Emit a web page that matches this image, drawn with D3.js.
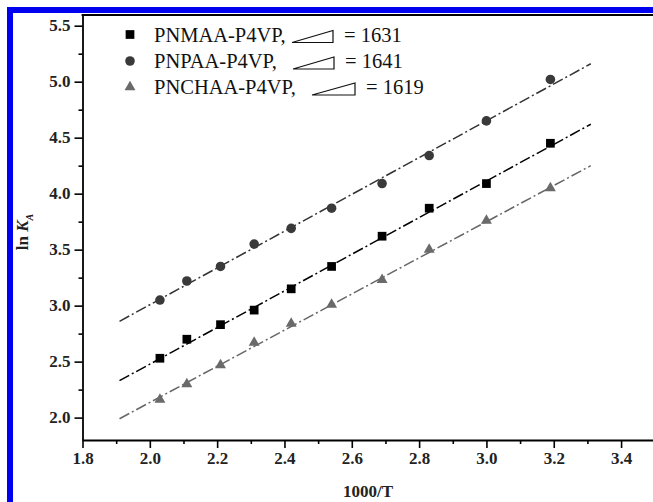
<!DOCTYPE html>
<html><head><meta charset="utf-8">
<script src="https://cdn.jsdelivr.net/npm/d3@7"></script>
<style>html,body{margin:0;padding:0;background:#fff;}svg{display:block;}</style>
</head><body>
<script>
// ---- data ----
const xValues = [2.03, 2.11, 2.21, 2.31, 2.42, 2.54, 2.69, 2.83, 3.00, 3.19];
const pnmaa  = [2.53, 2.70, 2.83, 2.96, 3.15, 3.35, 3.62, 3.87, 4.09, 4.45];
const pnpaa  = [3.05, 3.22, 3.35, 3.55, 3.69, 3.87, 4.09, 4.34, 4.65, 5.02];
const pnchaa = [2.16, 2.30, 2.47, 2.67, 2.84, 3.01, 3.23, 3.50, 3.76, 4.05];
const fitX = [1.91, 3.31];
const fitPnmaa  = [2.33, 4.62];
const fitPnpaa  = [2.86, 5.16];
const fitPnchaa = [1.99, 4.25];
const seriesNames = ["PNMAA-P4VP,", "PNPAA-P4VP,", "PNCHAA-P4VP,"];
const slopeLabels = ["= 1631", "= 1641", "= 1619"];
const xMajorTicks = [1.8, 2.0, 2.2, 2.4, 2.6, 2.8, 3.0, 3.2, 3.4];
const xMinorTicks = [1.9, 2.1, 2.3, 2.5, 2.7, 2.9, 3.1, 3.3];
const yMajorTicks = [2.0, 2.5, 3.0, 3.5, 4.0, 4.5, 5.0, 5.5];
const yMinorTicks = [2.25, 2.75, 3.25, 3.75, 4.25, 4.75, 5.25];

const W = 653, H = 502;
const svg = d3.select("body").append("svg").attr("width", W).attr("height", H);

const x = d3.scaleLinear().domain([1.8, 3.6]).range([82.5, 688.4]);
const y = d3.scaleLinear().domain([1.8, 5.6]).range([440, 14.5]);

// blue frame (cropped)
svg.append("rect").attr("x", 7).attr("y", 7).attr("width", W - 7).attr("height", 6).attr("fill", "#0000f0");
svg.append("rect").attr("x", 7).attr("y", 7).attr("width", 6).attr("height", H - 7).attr("fill", "#0000f0");

// top frame line
svg.append("line").attr("x1", 81.6).attr("x2", W).attr("y1", 15).attr("y2", 15)
  .attr("stroke", "#000").attr("stroke-width", 1.8);

const serif = "Liberation Serif, Times New Roman, serif";

// x axis
const xAxis = d3.axisBottom(x).tickValues(xMajorTicks).tickSize(8).tickPadding(4)
  .tickFormat(d3.format(".1f"));
const gx = svg.append("g").attr("transform", "translate(0,440)").call(xAxis);
const xMinor = d3.axisBottom(x).tickValues(xMinorTicks).tickSize(4).tickFormat("");
svg.append("g").attr("transform", "translate(0,440)").call(xMinor).select(".domain").remove();

// y axis
const yAxis = d3.axisLeft(y).tickValues(yMajorTicks).tickSize(8).tickPadding(5)
  .tickFormat(d3.format(".1f"));
const gy = svg.append("g").attr("transform", "translate(82.5,0)").call(yAxis);
const yMinor = d3.axisLeft(y).tickValues(yMinorTicks).tickSize(4).tickFormat("");
svg.append("g").attr("transform", "translate(82.5,0)").call(yMinor).select(".domain").remove();

svg.selectAll(".domain").attr("stroke-width", 1.8);
gx.select(".domain").attr("d", `M82.5,0.5H${W}`);
gy.select(".domain").attr("d", `M0.5,440H0.5V14.5`);
svg.selectAll(".tick line").attr("stroke-width", 1.6);
svg.selectAll("g").attr("font-family", serif);
svg.selectAll(".tick text").style("font-family", serif).attr("font-weight", "bold")
  .attr("font-size", 17).attr("fill", "#222");
gy.selectAll(".tick text").attr("dy", "0.28em").attr("x", -12);

// axis titles
svg.append("text").attr("x", 368).attr("y", 497).attr("text-anchor", "middle")
  .style("font-family", serif).attr("font-weight", "bold").attr("font-size", 17).attr("fill", "#222")
  .text("1000/T");
const yl = svg.append("text").attr("transform", "translate(28,232) rotate(-90)")
  .attr("text-anchor", "middle").style("font-family", serif).attr("font-weight", "bold")
  .attr("font-size", 17).attr("fill", "#222");
yl.append("tspan").text("ln ");
yl.append("tspan").attr("font-style", "italic").text("K");
yl.append("tspan").attr("font-size", 10).attr("dy", 5).attr("font-style", "italic").text("A");

// fit lines
const line = d3.line().x(d => x(d[0])).y(d => y(d[1]));
const fits = [
  {vals: fitPnmaa, color: "#000"},
  {vals: fitPnpaa, color: "#333"},
  {vals: fitPnchaa, color: "#666"}
];
fits.forEach(f => {
  svg.append("path").datum(fitX.map((xv, i) => [xv, f.vals[i]])).attr("d", line)
    .attr("fill", "none").attr("stroke", f.color).attr("stroke-width", 1.5)
    .attr("stroke-dasharray", "11,3,2,3");
});

// markers
const sq = d3.symbol().type(d3.symbolSquare).size(76);
const ci = d3.symbol().type(d3.symbolCircle).size(72);
const tr = d3.symbol().type(d3.symbolTriangle).size(52);
const sets = [
  {vals: pnmaa, sym: sq, color: "#000"},
  {vals: pnpaa, sym: ci, color: "#3a3a3a"},
  {vals: pnchaa, sym: tr, color: "#6a6a6a"}
];
sets.forEach(s => {
  svg.append("g").selectAll("path").data(xValues.map((xv, i) => [xv, s.vals[i]])).join("path")
    .attr("d", s.sym).attr("fill", s.color)
    .attr("transform", d => `translate(${x(d[0])},${y(d[1])})`);
});

// legend
const baselines = [41.5, 68, 94];
const triX = [[292, 333], [293, 334], [312, 355]];
const slopeX = [344, 345, 366];
sets.forEach((s, i) => {
  const b = baselines[i];
  svg.append("path").attr("d", s.sym).attr("fill", s.color)
    .attr("transform", `translate(130,${b - 7})`);
  svg.append("text").attr("x", 154).attr("y", b).style("font-family", serif)
    .attr("font-size", 20.5).attr("fill", "#111").text(seriesNames[i]);
  const [x0, x1] = triX[i];
  svg.append("path").attr("d", `M${x0},${b + 1}L${x1},${b - 11}L${x1},${b + 1}Z`)
    .attr("fill", "none").attr("stroke", "#111").attr("stroke-width", 1.2);
  svg.append("text").attr("x", slopeX[i]).attr("y", b).style("font-family", serif)
    .attr("font-size", 20.5).attr("fill", "#111").text(slopeLabels[i]);
});
</script>
</body></html>
